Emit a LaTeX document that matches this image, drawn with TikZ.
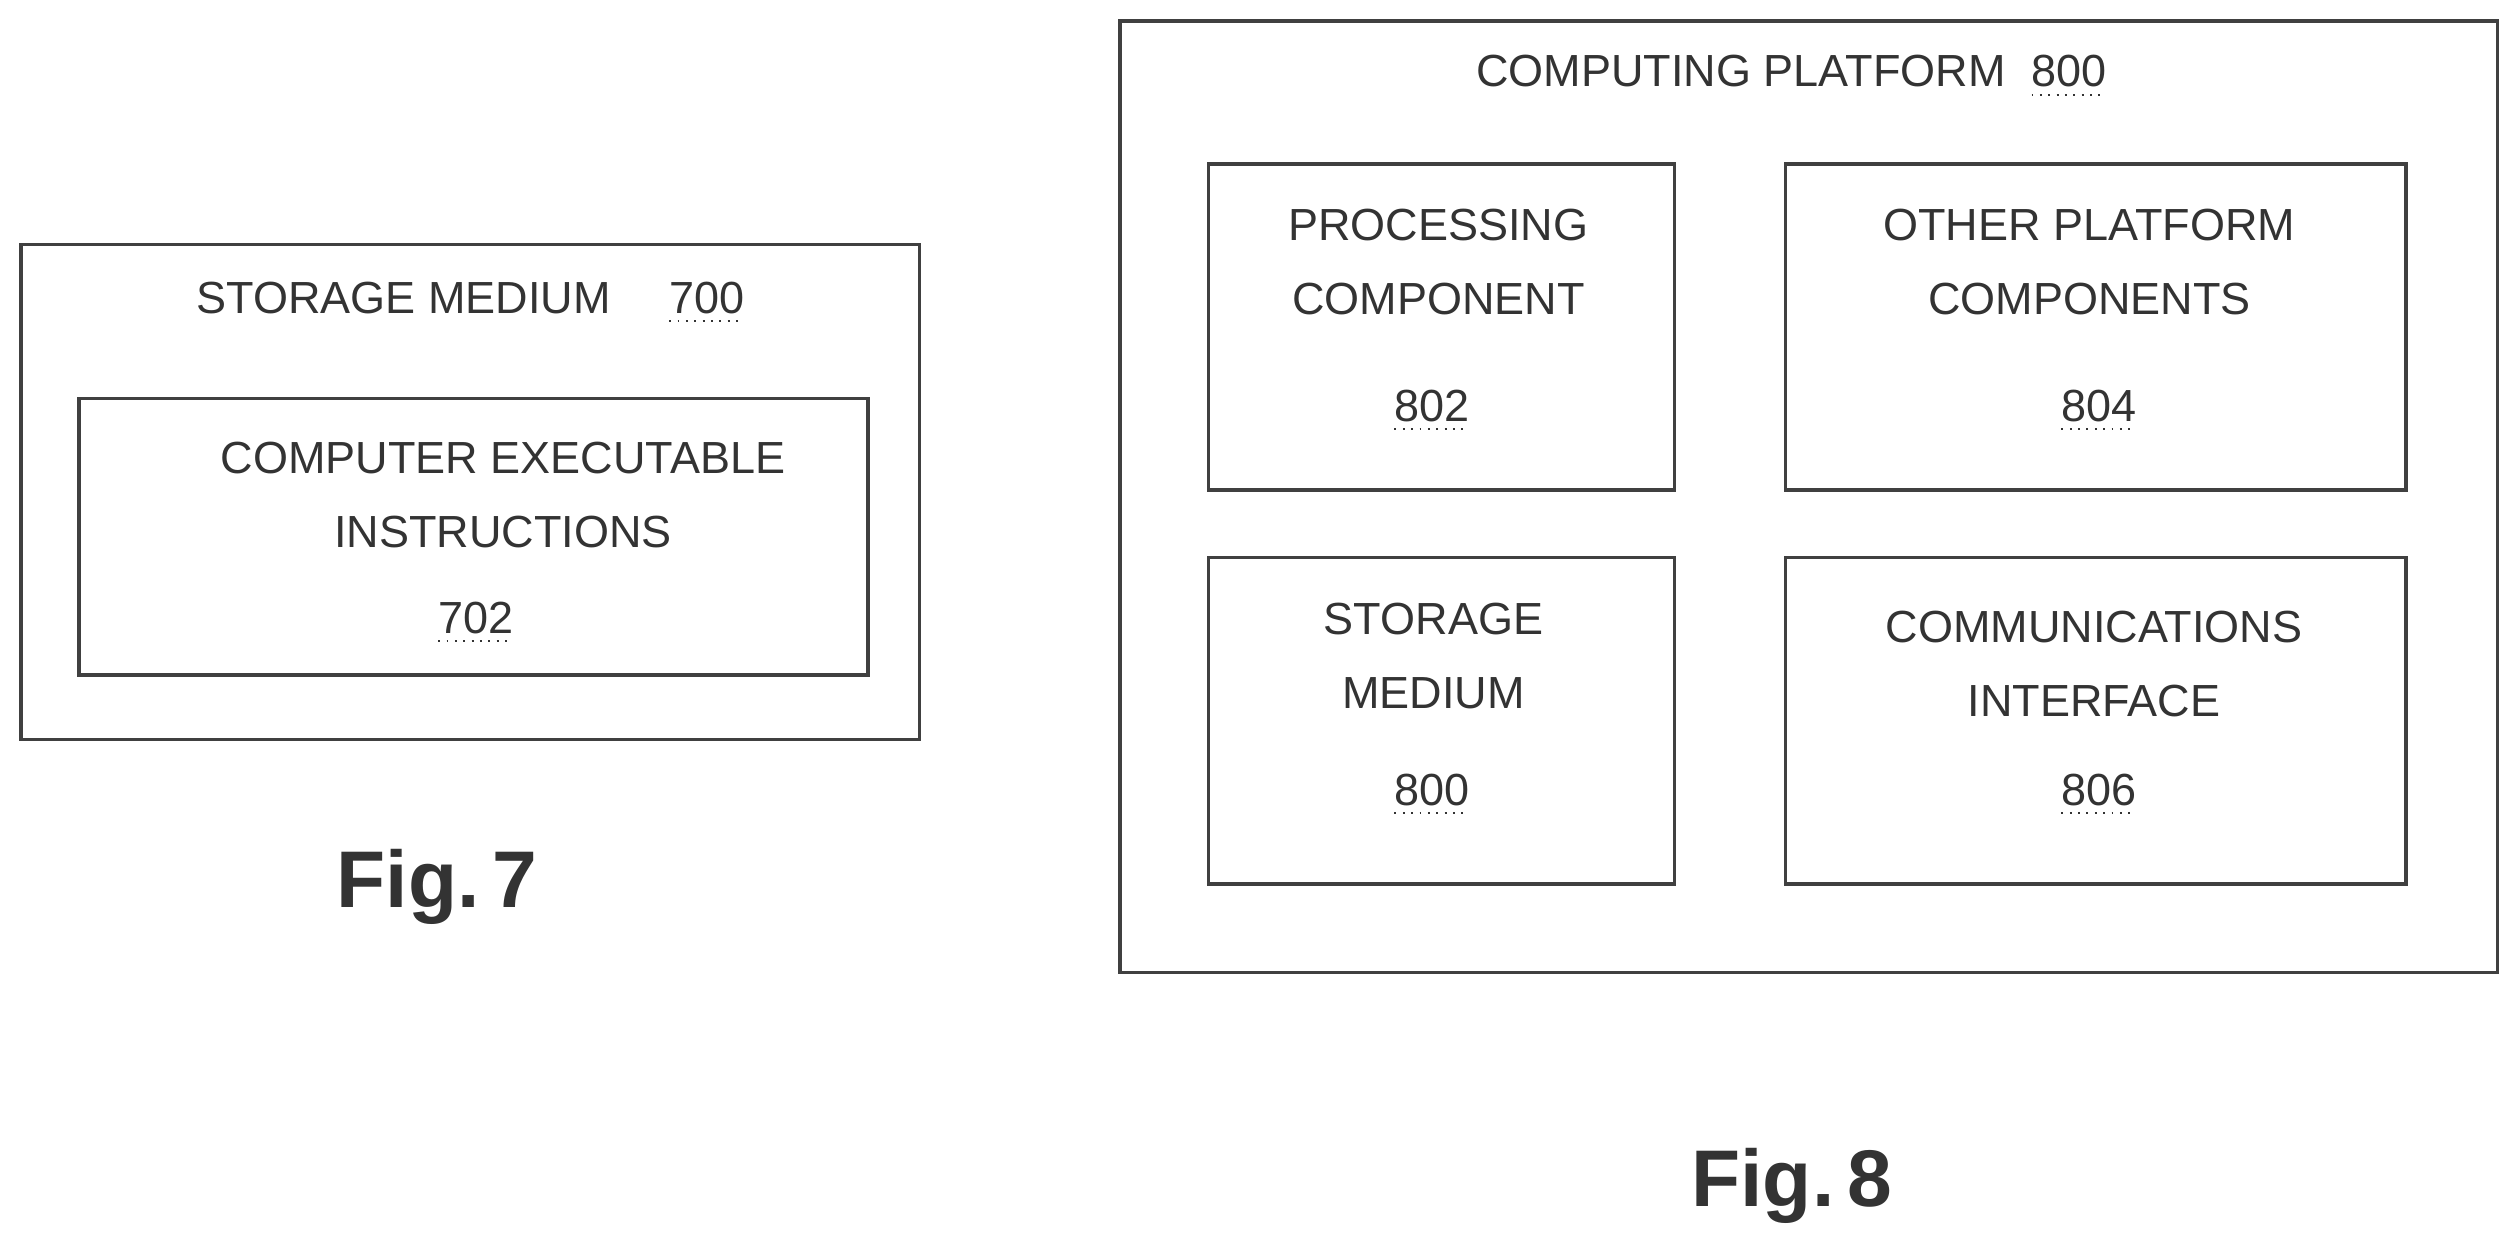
\documentclass[tikz,border=0pt]{standalone}
\usepackage{fontspec}
\setmainfont{Liberation Sans}
\newcommand{\refnum}[1]{\tikz[baseline=(rn.base)]{\node[inner sep=0pt,outer sep=0pt] (rn) {#1};
  \draw[dotted, line width=0.6pt] ([yshift=-2.5pt]rn.base west) -- ([yshift=-2.5pt]rn.base east);}}
\begin{document}
\begin{tikzpicture}[x=0.5pt,y=-0.5pt]
\tikzset{
  frame/.style = {draw=black!75, line width = 1.1pt},
  lbl/.style = {text=black!80, font=\fontsize{14}{23}\selectfont, align=center, inner sep=0pt},
  fig/.style = {text=black!80, font=\fontsize{25}{30}\selectfont\bfseries}
}
\useasboundingbox (0,0) rectangle (1568,780);
% Fig. 7
\draw[frame] (13,152) rectangle (572,460);
\draw[frame] (49,248) rectangle (540,420);
\node[lbl] (sm7) at (293,188) {STORAGE MEDIUM\quad\ \refnum{700}};
\node[lbl] (cei) at (313,308) {COMPUTER EXECUTABLE\\INSTRUCTIONS};
\node[lbl] (n702) at (296,387) {\refnum{702}};
\node[fig] (f7) at (272,552) {Fig.\,7};
% Fig. 8
\draw[frame] (697,13) rectangle (1554,605);
\node[lbl] (cp) at (1115,47) {COMPUTING PLATFORM\ \ \refnum{800}};
\draw[frame] (752,102) rectangle (1042,305);
\draw[frame] (1111,102) rectangle (1497,305);
\draw[frame] (752,347) rectangle (1042,550);
\draw[frame] (1111,347) rectangle (1497,550);
\node[lbl] (pc) at (895,163) {PROCESSING\\COMPONENT};
\node[lbl] (n802) at (891,255) {\refnum{802}};
\node[lbl] (opc) at (1300,163) {OTHER PLATFORM\\COMPONENTS};
\node[lbl] (n804) at (1306,255) {\refnum{804}};
\node[lbl] (sm8) at (892,408) {STORAGE\\MEDIUM};
\node[lbl] (n800) at (891,494) {\refnum{800}};
\node[lbl] (ci) at (1303,413) {COMMUNICATIONS\\INTERFACE};
\node[lbl] (n806) at (1306,494) {\refnum{806}};
\node[fig] (f8) at (1115,738) {Fig.\,8};
\end{tikzpicture}
\end{document}
